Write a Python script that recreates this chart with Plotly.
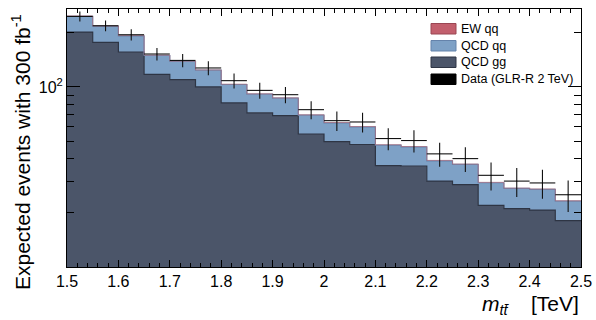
import plotly.graph_objects as go

# ---- data ----
bin_edges = [1.50, 1.55, 1.60, 1.65, 1.70, 1.75, 1.80, 1.85, 1.90, 1.95, 2.00,
             2.05, 2.10, 2.15, 2.20, 2.25, 2.30, 2.35, 2.40, 2.45, 2.50]
qcd_gg = [201.8, 176.8, 156.4, 117.5, 109.8, 100.0, 81.5, 71.8, 69.3, 54.8,
          49.7, 47.9, 36.6, 36.3, 30.0, 28.7, 22.0, 21.1, 20.7, 18.1]
qcd_qq = [45.2, 40.6, 35.6, 32.0, 28.7, 23.9, 21.7, 19.4, 17.3, 14.9,
          13.45, 12.1, 10.95, 10.15, 8.9, 8.42, 7.38, 6.2, 6.3, 5.12]
ew_qq = [1.0, 0.9, 0.8, 0.65, 0.6, 0.5, 0.45, 0.4, 0.38, 0.32,
         0.3, 0.28, 0.23, 0.22, 0.19, 0.18, 0.15, 0.13, 0.13, 0.11]
data_vals = [246.4, 218.8, 195.0, 152.4, 140.4, 127.5, 108.4, 95.7, 90.6, 74.8,
             65.0, 63.9, 51.7, 50.4, 42.5, 40.0, 32.3, 30.0, 29.3, 25.2]
data_err = [15.7, 14.8, 14.0, 12.3, 11.8, 11.3, 10.4, 9.8, 9.5, 8.6,
            8.1, 8.0, 7.2, 7.1, 6.5, 6.3, 5.7, 5.5, 5.4, 5.0]
x_tick_vals = [1.5, 1.6, 1.7, 1.8, 1.9, 2.0, 2.1, 2.2, 2.3, 2.4, 2.5]
x_tick_text = ["1.5", "1.6", "1.7", "1.8", "1.9", "2", "2.1", "2.2", "2.3", "2.4", "2.5"]
legend_labels = ["EW qq", "QCD qq", "QCD gg", "Data (GLR-R 2 TeV)"]

# ---- styles ----
C_GG, C_GG_LINE = "#4b5569", "#2e3544"
C_QQ, C_QQ_LINE = "#7ea1c6", "#6583ab"
C_EW, C_EW_LINE = "#c25f6d", "#b07080"
FONT = "Liberation Sans, Arial, sans-serif"

W, H = 596, 320
L, R, T, B = 67, 15, 9, 53
PW, PH = W - L - R, H - T - B


def px(x):
    return (x - L) / PW


def py(y):
    return (H - B - y) / PH


# cumulative stacks
s1 = list(qcd_gg)
s2 = [a + b for a, b in zip(s1, qcd_qq)]
s3 = [a + b for a, b in zip(s2, ew_qq)]
centers = [(a + b) / 2 for a, b in zip(bin_edges[:-1], bin_edges[1:])]
halfw = [(b - a) / 2 for a, b in zip(bin_edges[:-1], bin_edges[1:])]


def step(vals):
    return vals + [vals[-1]]


fig = go.Figure()
fig.add_trace(go.Scatter(x=bin_edges, y=[1] * len(bin_edges), mode="lines",
                         line=dict(width=0), line_shape="hv", showlegend=False,
                         hoverinfo="skip"))
fig.add_trace(go.Scatter(x=bin_edges, y=step(s1), mode="lines", line_shape="hv",
                         fill="tonexty", fillcolor=C_GG,
                         line=dict(color=C_GG_LINE, width=1.2), name="QCD gg",
                         showlegend=False))
fig.add_trace(go.Scatter(x=bin_edges, y=step(s2), mode="lines", line_shape="hv",
                         fill="tonexty", fillcolor=C_QQ,
                         line=dict(color=C_QQ_LINE, width=1.2), name="QCD qq",
                         showlegend=False))
fig.add_trace(go.Scatter(x=bin_edges, y=step(s3), mode="lines", line_shape="hv",
                         fill="tonexty", fillcolor="rgba(194,95,109,0.4)",
                         line=dict(color=C_EW_LINE, width=0.7), name="EW qq",
                         showlegend=False, opacity=0.5))
fig.add_trace(go.Scatter(x=centers, y=data_vals, mode="markers",
                         marker=dict(size=1, color="black"),
                         error_x=dict(type="data", array=halfw, color="#111111",
                                      thickness=1.1, width=0),
                         error_y=dict(type="data", array=data_err, color="#111111",
                                      thickness=1.1, width=0),
                         name="Data", showlegend=False))

fig.update_layout(
    width=W, height=H,
    margin=dict(l=L, r=R, t=T, b=B, autoexpand=False),
    paper_bgcolor="white", plot_bgcolor="white",
    font=dict(family=FONT, color="black"),
    showlegend=False,
)
fig.update_xaxes(
    range=[1.5, 2.5], tickmode="array", tickvals=x_tick_vals, ticktext=x_tick_text,
    ticks="inside", ticklen=7, tickcolor="black", tickwidth=1,
    minor=dict(dtick=0.02, tick0=1.5, ticks="inside", ticklen=4,
               tickcolor="black", tickwidth=1),
    showline=True, linecolor="black", linewidth=1, mirror="ticks",
    showgrid=False, zeroline=False, tickfont=dict(size=16, family=FONT),
    automargin=False,
)
fig.update_yaxes(
    type="log", range=[1.0, 2.433],
    tickmode="array", tickvals=[100], ticktext=["10<sup>2</sup>"],
    ticks="inside", ticklen=13, tickcolor="black", tickwidth=1,
    minor=dict(tickmode="array", tickvals=[20, 30, 40, 50, 60, 70, 80, 90, 200],
               ticks="inside", ticklen=7, tickcolor="black", tickwidth=1),
    showline=True, linecolor="black", linewidth=1, mirror="ticks",
    showgrid=False, zeroline=False, tickfont=dict(size=16, family=FONT),
    automargin=False,
)

# axis titles
fig.add_annotation(xref="paper", yref="paper", x=px(581), y=py(305),
                   xanchor="right", yanchor="middle", showarrow=False,
                   text="<i>m</i><sub><i>tt̄</i></sub>&nbsp;&nbsp;&nbsp;&nbsp;[TeV]",
                   font=dict(size=21, family=FONT, color="black"))
fig.add_annotation(xref="paper", yref="paper", x=px(21), y=py(152),
                   xanchor="center", yanchor="middle", showarrow=False,
                   textangle=-90,
                   text="Expected events with 300 fb<sup>-1</sup>",
                   font=dict(size=21, family=FONT, color="black"))

# legend (manual)
leg_fill = [C_EW, C_QQ, C_GG, "black"]
leg_line = ["#9a4653", C_QQ_LINE, C_GG_LINE, "black"]
rows = [(23.5, 34), (40.5, 51), (57, 67.5), (74, 84.5)]
for lab, fc, lc, (y0, y1) in zip(legend_labels, leg_fill, leg_line, rows):
    fig.add_shape(type="rect", xref="paper", yref="paper",
                  x0=px(431), x1=px(456), y0=py(y1), y1=py(y0),
                  fillcolor=fc, line=dict(color=lc, width=1))
    fig.add_annotation(xref="paper", yref="paper", x=px(459), y=py((y0 + y1) / 2),
                       xanchor="left", yanchor="middle", showarrow=False,
                       text=lab, font=dict(size=12.5, family=FONT, color="black"))

fig.write_html("out.html",
               config={"displayModeBar": False},
               post_script="document.body.style.margin='0';"
                           "document.body.style.overflow='hidden';")
